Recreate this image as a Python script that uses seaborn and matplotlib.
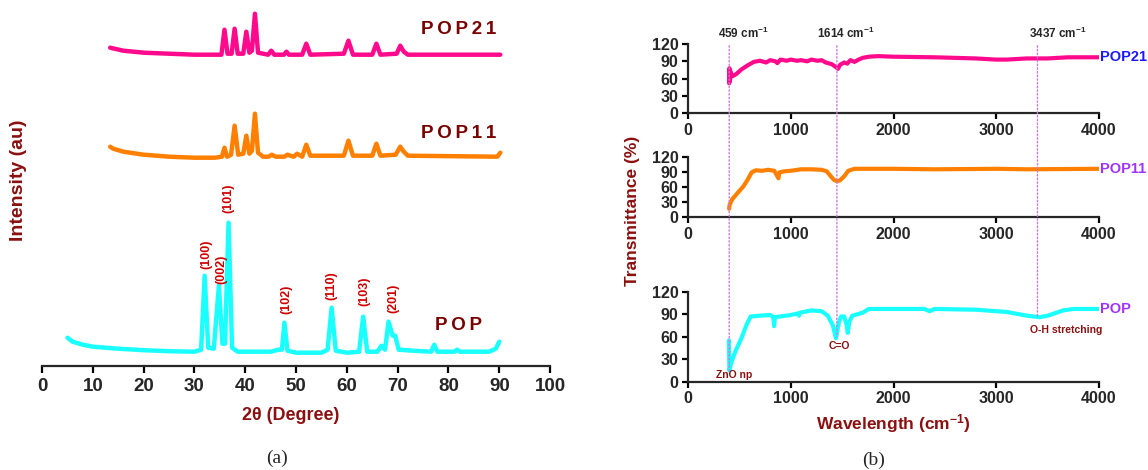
import matplotlib
matplotlib.use('Agg')
import matplotlib.pyplot as plt
from matplotlib.patches import ConnectionPatch
import numpy as np
import pandas as pd
import seaborn as sns

# ---------------- data ----------------
# XRD (panel a): 2theta and intensity (au), each trace on its own baseline
pop_tt = [5, 6, 8, 10, 15, 20, 25, 30, 31.3, 32.0, 32.7, 33.8, 34.8, 35.5, 36.0,
          36.7, 37.4, 38.5, 45, 46.5, 47.2, 47.7, 48.3, 50, 55, 56.2, 57.0, 57.8,
          60, 62.4, 63.2, 64.0, 66.0, 66.8, 67.5, 68.2, 69.0, 69.5, 70.2, 73,
          76.6, 77.2, 77.8, 81.2, 81.7, 82.2, 88, 89.3, 90]
pop_int = [28, 24, 21, 19, 17, 15.5, 14.5, 14, 16, 90, 18, 17, 80, 22, 22,
           143, 18, 14, 14, 16, 16, 43, 15, 13, 13, 16, 58, 15,
           13, 14, 49, 14, 14, 20, 16, 44, 30, 30, 16, 15,
           14, 21, 14, 14, 16, 14, 14, 17, 24]

pop11_tt = [13.4, 14, 16, 20, 25, 30, 34, 35.4, 35.9, 36.4, 37.2, 37.9, 38.6,
            39.6, 40.2, 40.8, 41.3, 41.9, 42.5, 43.5, 44.6, 45.2, 46, 47.7, 48.3,
            49.5, 50.2, 51.2, 52.0, 52.8, 59.4, 60.3, 61.2, 65.0, 65.8, 66.6,
            69.6, 70.5, 71.2, 72, 89.6, 90.2]
pop11_int = [10, 8, 5, 2, 0, -1, -1, 0, 9, 0, 2, 31, 2,
             3, 21, 3, 6, 43, 4, 0, 0, 2, 0, 0, 2,
             0, 3, 0, 12, 1, 1, 16, 1, 1, 13, 1,
             2, 10, 5, 1, 0, 4]

pop21_tt = [13.4, 16, 20, 25, 30, 35.3, 35.9, 36.5, 37.3, 37.9, 38.5, 39.6,
            40.2, 40.8, 41.3, 41.9, 42.5, 44.5, 45.1, 45.7, 47.6, 48.1, 48.6,
            51.2, 52.0, 52.8, 59.4, 60.3, 61.2, 65.0, 65.8, 66.6, 69.8, 70.5,
            71.2, 72, 78, 90.2]
pop21_int = [6, 3, 1, 0, -1, -1, 24, 0, 0, 25, 0, 0,
             22, 1, 3, 40, 1, -1, 3, -1, -1, 2, -1,
             -1, 10, -1, 0, 13, -1, -1, 10, -1, 0, 8,
             2, -1, -1, -1]

hkl_labels = ['(100)', '(002)', '(101)', '(102)', '(110)', '(103)', '(201)']
hkl_tt = [32.4, 35.2, 36.7, 48.0, 57.0, 63.4, 69.1]
hkl_base = [97, 82, 153, 52, 66, 60, 53]

# FTIR (panel b): wavenumber and transmittance (%)
ftir_pop21_wn = [400, 403, 408, 415, 430, 470, 520, 580, 640, 700, 760, 800, 850,
                 870, 900, 960, 1000, 1060, 1100, 1160, 1200, 1260, 1300, 1340,
                 1400, 1440, 1460, 1480, 1520, 1550, 1580, 1620, 1660, 1700, 1760,
                 1850, 2000, 2400, 2800, 3000, 3100, 3300, 3500, 3700, 4000]
ftir_pop21_t = [52, 78, 55, 72, 64, 68, 76, 83, 89, 91, 88, 92, 90,
                87, 93, 91, 93, 91, 92, 90, 93, 91, 92, 88,
                85, 80, 77, 84, 88, 86, 92, 89, 93, 96, 98,
                99, 98, 97, 95, 93, 93, 95, 95, 97, 97]

ftir_pop11_wn = [400, 405, 430, 480, 540, 580, 620, 660, 720, 780, 840, 870, 880,
                 890, 940, 1000, 1100, 1200, 1300, 1350, 1390, 1420, 1450, 1480,
                 1520, 1560, 1620, 2000, 2400, 3000, 3300, 4000]
ftir_pop11_t = [17, 25, 36, 48, 62, 75, 90, 94, 93, 95, 93, 82, 78,
                90, 92, 93, 96, 96, 95, 92, 82, 75, 72, 74,
                82, 93, 97, 97, 96, 97, 96, 97]

ftir_pop_wn = [398, 403, 420, 460, 520, 570, 610, 700, 800, 830, 838, 846, 900,
               1000, 1070, 1080, 1090, 1200, 1300, 1360, 1410, 1440, 1470, 1490,
               1520, 1545, 1555, 1570, 1600, 1700, 1760, 2000, 2300, 2350, 2400,
               2800, 3100, 3300, 3420, 3500, 3650, 3750, 4000]
ftir_pop_t = [55, 15, 25, 40, 58, 76, 87, 88, 89, 86, 74, 86, 87,
              89, 91, 88, 92, 95, 94, 88, 75, 58, 80, 87,
              87, 75, 65, 80, 88, 92, 97, 97, 97, 94, 97,
              96, 93, 88, 86, 88, 95, 97, 97]

peak_wn = [401, 1449, 3401]
peak_text = ['459 cm$^{-1}$', '1614 cm$^{-1}$', '3437 cm$^{-1}$']

# ---------------- style ----------------
sns.set_style('ticks')
plt.rcParams['font.family'] = ['Liberation Sans', 'DejaVu Sans']
plt.rcParams['font.weight'] = 'bold'
plt.rcParams['mathtext.fontset'] = 'custom'
plt.rcParams['mathtext.rm'] = 'Liberation Sans:bold'
plt.rcParams['mathtext.bf'] = 'Liberation Sans:bold'
plt.rcParams['mathtext.default'] = 'bf'

darkred = '#8b1010'
pink = '#ff0a8c'
orange = '#ff8000'
cyan = '#1affff'

fig = plt.figure(figsize=(11.48, 4.70), dpi=100)


def style_axis(ax, size):
    sns.despine(ax=ax)
    for s in ['left', 'bottom']:
        ax.spines[s].set_linewidth(1.6)
    ax.tick_params(width=1.6, length=4, labelsize=size, color='black')
    for t in ax.get_xticklabels() + ax.get_yticklabels():
        t.set_fontweight('bold')


def spaced(s):
    # the reference letter-spaces the trace names
    return '\u2009'.join(s)


# ---------------- panel (a): XRD ----------------
ax_a = fig.add_axes([42.1 / 1148, 1 - 365.7 / 470, 508 / 1148, 365.7 / 470])
offsets = {'POP': 0, 'POP11': 209, 'POP21': 312}
xrd = [('POP21', pop21_tt, pop21_int, pink, 335.7),
       ('POP11', pop11_tt, pop11_int, orange, 232.7),
       ('POP', pop_tt, pop_int, cyan, 40)]
for name, tt, inten, col, ly in xrd:
    df = pd.DataFrame({'tt': tt, 'i': np.array(inten) + offsets[name]})
    sns.lineplot(data=df, x='tt', y='i', ax=ax_a, color=col, lw=3.2,
                 sort=False, estimator=None)
    ax_a.text(82, ly, spaced(name), color='#7a0000', fontsize=13.5,
              fontweight='bold', ha='center', va='center')

for lab, x, y in zip(hkl_labels, hkl_tt, hkl_base):
    ax_a.text(x, y, lab, rotation=90, color='#d00000', fontsize=9,
              fontweight='bold', ha='center', va='bottom')

ax_a.set_xlim(0, 100)
ax_a.set_ylim(0, 365.7)
ax_a.set_xticks(range(0, 101, 10))
ax_a.set_yticks([])
style_axis(ax_a, 13.5)
ax_a.spines['left'].set_visible(False)
ax_a.tick_params(length=5, pad=4)
ax_a.set_xlabel('2θ (Degree)', color=darkred, fontsize=13, fontweight='bold')
ax_a.xaxis.set_label_coords(0.49, -0.112)
ax_a.set_ylabel('Intensity (au)', color=darkred, fontsize=14, fontweight='bold')
ax_a.yaxis.set_label_coords(-0.03, 0.508)

# ---------------- panel (b): FTIR ----------------
bx_left = 688 / 1148
bx_w = 411 / 1148
ax_b1 = fig.add_axes([bx_left, 1 - 113.3 / 470, bx_w, 69.3 / 470])
ax_b2 = fig.add_axes([bx_left, 1 - 217.3 / 470, bx_w, 60 / 470])
ax_b3 = fig.add_axes([bx_left, 1 - 381.7 / 470, bx_w, 90 / 470])

ftir = [(ax_b1, ftir_pop21_wn, ftir_pop21_t, pink, 'POP21', '#1a1aff'),
        (ax_b2, ftir_pop11_wn, ftir_pop11_t, orange, 'POP11', '#a033ff'),
        (ax_b3, ftir_pop_wn, ftir_pop_t, cyan, 'POP', '#a033ff')]
for ax, wn, t, col, name, lcol in ftir:
    sns.lineplot(x=wn, y=t, ax=ax, color=col, lw=3, sort=False, estimator=None)
    ax.set_xlim(0, 4000)
    ax.set_ylim(0, 120)
    ax.set_xticks(range(0, 4001, 1000))
    ax.set_yticks(range(0, 121, 30))
    style_axis(ax, 11.5)
    ax.tick_params(pad=3)
    ax.set_xlabel('')
    ax.set_ylabel('')
    ax.text(4010, 97, name, color=lcol, fontsize=10.5, fontweight='bold',
            ha='left', va='center', clip_on=False)

# dotted guide lines through the three FTIR panels
line_ends = [15, 60, 87]
for x, yend in zip(peak_wn, line_ends):
    con = ConnectionPatch(xyA=(x, 117), coordsA=ax_b1.transData,
                          xyB=(x, yend), coordsB=ax_b3.transData,
                          color='#cc77dd', linestyle=':', lw=1)
    fig.add_artist(con)

for x, lab in zip([542, 1538, 3601], peak_text):
    ax_b1.text(x, 139, lab, fontsize=8.5, fontweight='bold', ha='center',
               va='center', clip_on=False)

ax_b3.text(449, 9, 'ZnO np', color=darkred, fontsize=7.5, ha='center', va='center')
ax_b3.text(1473, 47, 'C=O', color=darkred, fontsize=7.5, ha='center', va='center')
ax_b3.text(3684, 69, 'O-H stretching', color=darkred, fontsize=7.5,
           ha='center', va='center')

ax_b3.set_xlabel('Wavelength (cm$^{-1}$)', color=darkred, fontsize=12.5,
                 fontweight='bold')
ax_b3.xaxis.set_label_coords(0.5, -0.34)
fig.text(633 / 1148, 1 - 211 / 470, 'Transmittance (%)', rotation=90,
         color=darkred, fontsize=12.5, fontweight='bold', ha='center', va='center')

# panel captions
fig.text(276.8 / 1148, 1 - 458 / 470, '(a)', family='Liberation Serif',
         fontweight='normal', fontsize=14, ha='center', va='center')
fig.text(874 / 1148, 1 - 460 / 470, '(b)', family='Liberation Serif',
         fontweight='normal', fontsize=14, ha='center', va='center')

plt.savefig('out.png', dpi=100)
plt.close()
